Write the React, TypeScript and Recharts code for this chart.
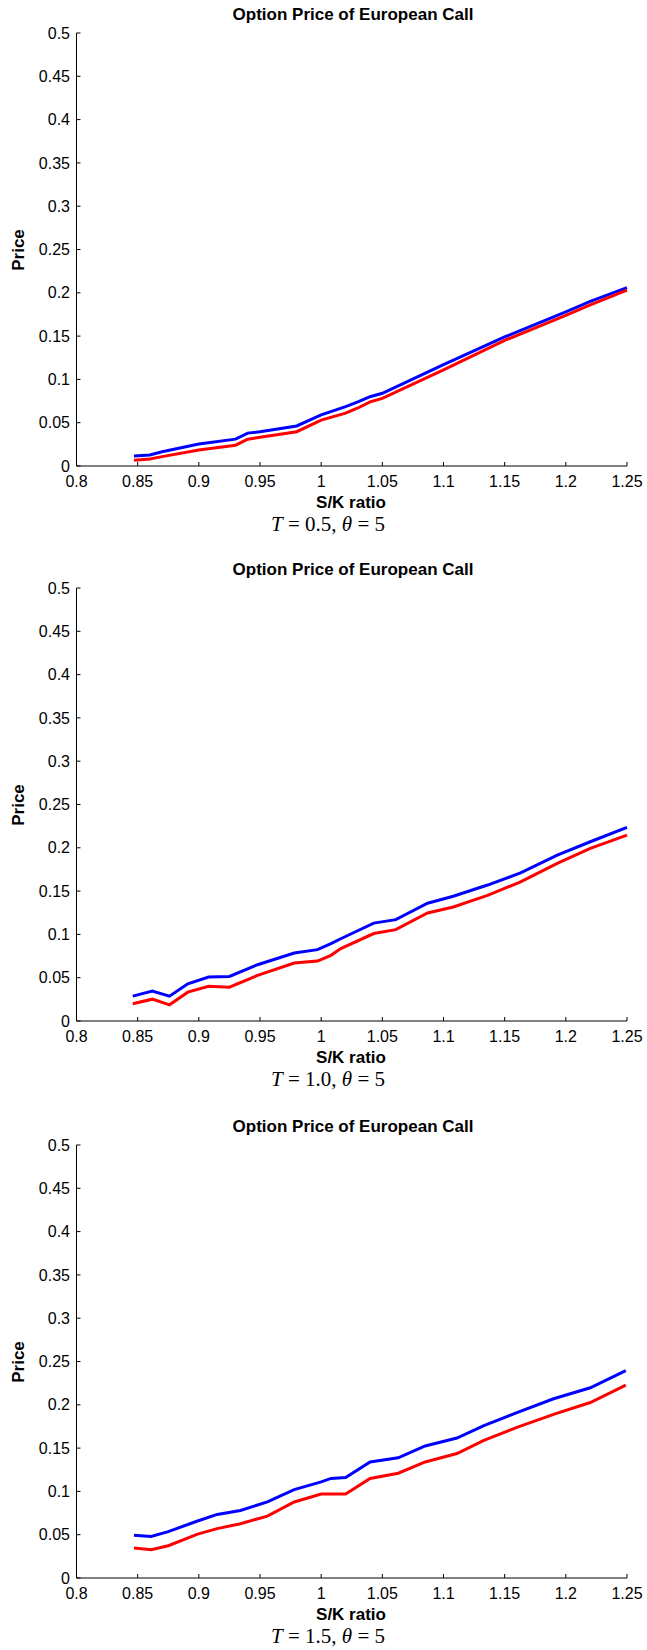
import { LineChart, Line, XAxis, YAxis } from "recharts"

// S/K ratio tick marks and price ticks shared by all three panels
const xTicks = [0.8, 0.85, 0.9, 0.95, 1, 1.05, 1.1, 1.15, 1.2, 1.25]
const yTicks = [0, 0.05, 0.1, 0.15, 0.2, 0.25, 0.3, 0.35, 0.4, 0.45, 0.5]

// T = 0.5
const ratioT05 = [0.847, 0.86, 0.87, 0.9, 0.93, 0.94, 0.95, 0.98, 1.0, 1.02, 1.03, 1.04, 1.05, 1.1, 1.15, 1.2, 1.22, 1.25]
const blueT05 = [0.0115, 0.0127, 0.0165, 0.0254, 0.031, 0.038, 0.0396, 0.0462, 0.059, 0.0685, 0.074, 0.08, 0.084, 0.117, 0.149, 0.178, 0.19, 0.206]
const redT05 = [0.0066, 0.008, 0.0108, 0.0185, 0.024, 0.031, 0.0331, 0.0396, 0.053, 0.061, 0.067, 0.074, 0.078, 0.111, 0.145, 0.174, 0.186, 0.203]

// T = 1.0
const ratioT10 = [0.846, 0.862, 0.876, 0.891, 0.908, 0.925, 0.948, 0.978, 0.997, 1.008, 1.016, 1.043, 1.061, 1.087, 1.108, 1.136, 1.163, 1.193, 1.22, 1.25]
const blueT10 = [0.0287, 0.0345, 0.0287, 0.043, 0.0507, 0.0515, 0.065, 0.0785, 0.0824, 0.0893, 0.095, 0.113, 0.117, 0.136, 0.144, 0.157, 0.171, 0.1915, 0.207, 0.2236]
const redT10 = [0.0199, 0.0252, 0.0187, 0.0333, 0.04, 0.039, 0.0527, 0.0669, 0.0692, 0.0758, 0.0836, 0.101, 0.1055, 0.1248, 0.1317, 0.145, 0.1607, 0.182, 0.1993, 0.2147]

// T = 1.5
const ratioT15 = [0.847, 0.861, 0.875, 0.899, 0.915, 0.934, 0.956, 0.978, 1.0, 1.008, 1.02, 1.04, 1.063, 1.085, 1.111, 1.133, 1.16, 1.19, 1.22, 1.249]
const blueT15 = [0.0495, 0.048, 0.0536, 0.0658, 0.0734, 0.078, 0.0878, 0.102, 0.111, 0.115, 0.116, 0.134, 0.1388, 0.1525, 0.1616, 0.176, 0.191, 0.207, 0.2197, 0.2395]
const redT15 = [0.0347, 0.0327, 0.0373, 0.0506, 0.057, 0.0627, 0.0715, 0.0878, 0.097, 0.097, 0.097, 0.115, 0.121, 0.134, 0.1437, 0.159, 0.174, 0.189, 0.2026, 0.2228]

const sans = "'Liberation Sans', Arial, Helvetica, sans-serif"
const serif = "'Liberation Serif', 'Times New Roman', serif"

interface PanelProps {
  top: number
  ratios: number[]
  blue: number[]
  red: number[]
  tLabel: string
}

function Panel({ top, ratios, blue, red, tLabel }: PanelProps) {
  const data = ratios.map((r, i) => ({ r, blue: blue[i], red: red[i] }))
  const bold = { fontFamily: sans, fontWeight: "bold" as const, fontSize: 17, whiteSpace: "nowrap" as const }
  return (
    <div style={{ position: "absolute", left: 0, top, width: 647, height: 545 }}>
      <LineChart
        width={647}
        height={540}
        data={data}
        margin={{ top: 33, right: 20, bottom: 60, left: 0 }}
      >
        <XAxis
          dataKey="r"
          type="number"
          domain={[0.8, 1.25]}
          ticks={xTicks}
          height={14}
          tickSize={-4}
          tickMargin={14}
          axisLine={{ stroke: "#000" }}
          tickLine={{ stroke: "#000" }}
          tick={{ fontSize: 16, fill: "#000", fontFamily: sans }}
        />
        <YAxis
          type="number"
          domain={[0, 0.5]}
          ticks={yTicks}
          width={76.5}
          tickSize={-4}
          tickMargin={10.5}
          axisLine={{ stroke: "#000" }}
          tickLine={{ stroke: "#000" }}
          tick={{ fontSize: 16, fill: "#000", fontFamily: sans }}
        />
        <Line
          type="linear"
          dataKey="blue"
          stroke="#0000ff"
          strokeWidth={3}
          dot={false}
          isAnimationActive={false}
        />
        <Line
          type="linear"
          dataKey="red"
          stroke="#ff0000"
          strokeWidth={3}
          dot={false}
          isAnimationActive={false}
        />
      </LineChart>
      <div style={{ ...bold, position: "absolute", left: 353, top: 15, transform: "translate(-50%, -50%)" }}>
        Option Price of European Call
      </div>
      <div style={{ ...bold, position: "absolute", left: 19, top: 249.5, transform: "translate(-50%, -50%) rotate(-90deg)" }}>
        Price
      </div>
      <div style={{ ...bold, position: "absolute", left: 351, top: 503, transform: "translate(-50%, -50%)" }}>
        S/K ratio
      </div>
      <div
        style={{
          position: "absolute", left: 328, top: 524, transform: "translate(-50%, -50%)",
          fontFamily: serif, fontSize: 21, whiteSpace: "nowrap",
        }}
      >
        <i>T</i> = {tLabel}, <i>θ</i> = 5
      </div>
    </div>
  )
}

export default function App() {
  return (
    <div style={{ position: "absolute", left: 0, top: 0, width: 647, height: 1650, background: "#fff" }}>
      <Panel top={0} ratios={ratioT05} blue={blueT05} red={redT05} tLabel="0.5" />
      <Panel top={555} ratios={ratioT10} blue={blueT10} red={redT10} tLabel="1.0" />
      <Panel top={1112} ratios={ratioT15} blue={blueT15} red={redT15} tLabel="1.5" />
    </div>
  )
}
